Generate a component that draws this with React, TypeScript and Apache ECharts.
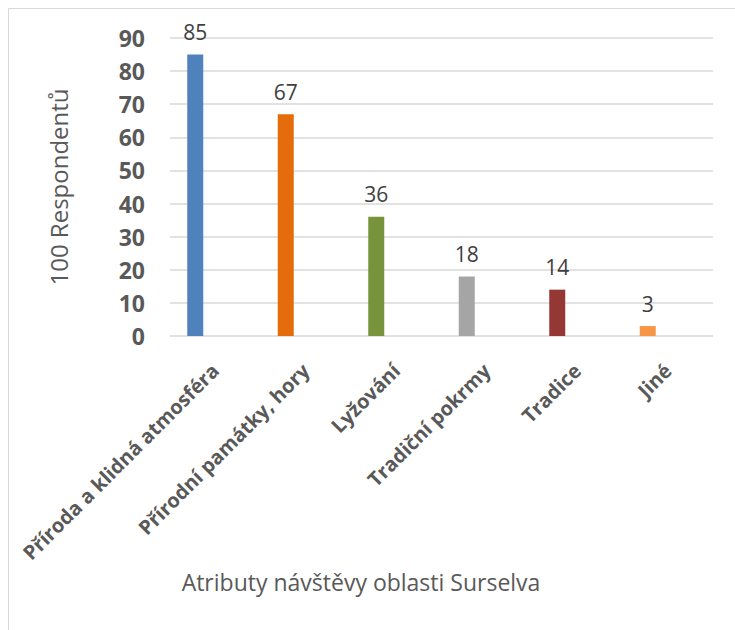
import React, { useEffect, useRef } from "react";
import * as echarts from "echarts";

const categories = [
  "Příroda a klidná atmosféra",
  "Přírodní památky, hory",
  "Lyžování",
  "Tradiční pokrmy",
  "Tradice",
  "Jiné",
];
const values = [85, 67, 36, 18, 14, 3];
const barColors = ["#4f81bd", "#e46c0a", "#77933c", "#a5a5a5", "#953735", "#f79646"];
const yTicks = { min: 0, max: 90, interval: 10 };
const yName = "100 Respondentů";
const xName = "Atributy návštěvy oblasti Surselva";

const FONT = "'Open Sans', sans-serif";

export default function App() {
  const ref = useRef<HTMLDivElement>(null);
  useEffect(() => {
    if (!ref.current) return;
    const chart = echarts.init(ref.current, undefined, { renderer: "svg" });
    chart.setOption({
      animation: false,
      backgroundColor: "#ffffff",
      textStyle: { fontFamily: FONT },
      graphic: [
        {
          type: "rect",
          shape: { x: 8.5, y: 8.5, width: 800, height: 700 },
          style: { fill: "none", stroke: "#d9d9d9", lineWidth: 1 },
          silent: true,
        },
        {
          type: "text",
          x: 361,
          y: 582,
          style: {
            text: xName,
            fontFamily: FONT,
            fontSize: 23,
            fill: "#595959",
            align: "center",
            verticalAlign: "middle",
          },
        },
      ],
      grid: [
        { left: 170, right: 22, top: 38, bottom: 294 },
        { left: 150, right: 42, top: 38, bottom: 294 },
      ],
      xAxis: [
        {
          type: "category",
          gridIndex: 0,
          data: categories,
          axisLine: { show: false },
          axisTick: { show: false },
          axisLabel: {
            interval: 0,
            rotate: 45,
            margin: 31,
            fontFamily: FONT,
            fontSize: 20,
            fontWeight: "bold",
            color: "#595959",
          },
        },
        {
          type: "category",
          gridIndex: 1,
          data: categories,
          show: false,
        },
      ],
      yAxis: [
        {
          type: "value",
          gridIndex: 0,
          min: yTicks.min,
          max: yTicks.max,
          interval: yTicks.interval,
          name: yName,
          nameLocation: "middle",
          nameGap: 100,
          nameRotate: 90,
          nameTextStyle: { fontFamily: FONT, fontSize: 24, color: "#595959" },
          axisLine: { show: false },
          axisTick: { show: false },
          axisLabel: {
            margin: 25,
            fontFamily: FONT,
            fontSize: 23,
            fontWeight: "bold",
            color: "#595959",
          },
          splitLine: { lineStyle: { color: "#d9d9d9", width: 1.5 } },
        },
        {
          type: "value",
          gridIndex: 1,
          min: yTicks.min,
          max: yTicks.max,
          interval: yTicks.interval,
          show: false,
          splitLine: { show: false },
        },
      ],
      series: [
        {
          type: "bar",
          xAxisIndex: 1,
          yAxisIndex: 1,
          barWidth: 16,
          data: values.map((v, i) => ({ value: v, itemStyle: { color: barColors[i] } })),
          label: {
            show: true,
            position: "top",
            distance: 12,
            fontFamily: FONT,
            fontSize: 21,
            color: "#404040",
          },
        },
      ],
    });
    return () => chart.dispose();
  }, []);
  return (
    <div
      ref={ref}
      style={{ position: "fixed", left: 0, top: 0, width: 735, height: 630 }}
    />
  );
}
